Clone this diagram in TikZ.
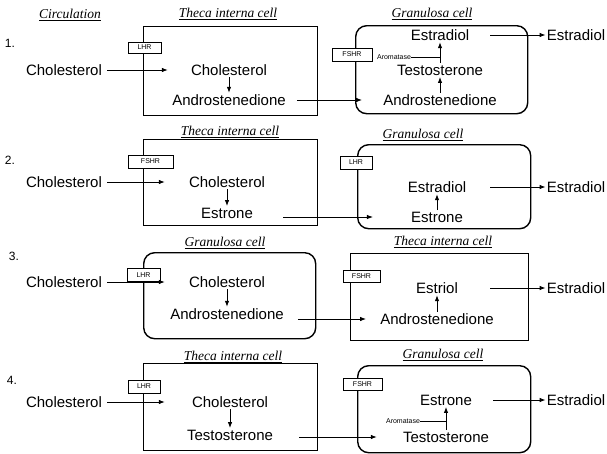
\documentclass[tikz,border=0pt]{standalone}
\usepackage{fontspec}
\setmainfont{Liberation Sans}
\newfontfamily\lblfont{Liberation Serif}
\usetikzlibrary{arrows.meta}
\begin{document}
\begin{tikzpicture}[x=1pt,y=-1pt,
  txt/.style={font=\fontsize{15}{17}\selectfont, inner sep=0pt},
  lbl/.style={font=\lblfont\itshape\fontsize{13.5}{15}\selectfont, inner sep=1pt},
  num/.style={font=\fontsize{12}{14}\selectfont, inner sep=0pt},
  cellsq/.style={draw, line width=1.4pt, inner sep=0pt, anchor=north west},
  cellrd/.style={cellsq, rounded corners=11pt},
  rcp/.style={draw, line width=0.7pt, fill=white, inner sep=0pt, font=\fontsize{7}{8}\selectfont},
  aro/.style={font=\fontsize{7}{8}\selectfont, inner sep=0pt},
  arr/.style={-{Latex[length=6pt,width=4.5pt]}, line width=0.9pt},
  vup/.style={arr, shorten <=1.5pt, shorten >=1.5pt}]
\useasboundingbox (0,0) rectangle (607,453);
\fill[white] (0,0) rectangle (607,453);

% ---------- Row 1 ----------
\node[lbl] (circ) at (70,15) {\underline{Circulation}};
\node[num] (n1) at (10,43) {1.};
\node[txt] (c1) at (64,70) {Cholesterol};
\node[lbl] (l1a) at (228,14) {\underline{Theca interna cell}};
\node[cellsq, minimum width=174pt, minimum height=89pt] (t1) at (143,26) {};
\node[rcp, minimum width=33pt, minimum height=11pt] (r1a) at (144.5,47.5) {LHR};
\node[txt] (ch1) at (229,70) {Cholesterol};
\node[txt] (ad1) at (229,100) {Androstenedione};
\draw[arr, shorten <=5pt, shorten >=23pt] (c1) -- (ch1);
\draw[vup] (ch1) -- (ad1);

\node[lbl] (l1b) at (432,14) {\underline{Granulosa cell}};
\node[cellrd, minimum width=172pt, minimum height=88pt] (g1) at (355,25) {};
\node[rcp, minimum width=40pt, minimum height=13pt] (r1b) at (352,54.5) {FSHR};
\node[txt] (e1) at (440,35) {Estradiol};
\node[txt] (ts1) at (440,70) {Testosterone};
\node[txt] (an1) at (440,100) {Androstenedione};
\draw[vup] (an1) -- (ts1);
\draw[vup] (ts1) -- (e1);
\node[aro] (aro1) at (394,57) {Aromatase};
\draw[line width=0.9pt] (aro1.east) -- (aro1.east -| e1);
\draw[arr, shorten <=11pt, shorten >=21pt] (ad1) -- (an1);
\node[txt] (o1) at (576,35) {Estradiol};
\draw[arr, shorten <=21pt, shorten >=1pt] (e1) -- (o1);

% ---------- Row 2 ----------
\node[num] (n2) at (10,160) {2.};
\node[txt] (c2) at (64,182) {Cholesterol};
\node[lbl] (l2a) at (230,132) {\underline{Theca interna cell}};
\node[cellsq, minimum width=174pt, minimum height=86pt] (t2) at (143,139) {};
\node[rcp, minimum width=45pt, minimum height=13pt] (r2a) at (150.5,161.5) {FSHR};
\node[txt] (ch2) at (227,182) {Cholesterol};
\node[txt] (es2) at (227,213) {Estrone};
\draw[arr, shorten <=5pt, shorten >=24pt] (c2) -- (ch2);
\draw[vup] (ch2) -- (es2);

\node[lbl] (l2b) at (423,135) {\underline{Granulosa cell}};
\node[cellrd, minimum width=173pt, minimum height=84pt] (g2) at (357,144) {};
\node[rcp, minimum width=32pt, minimum height=13pt] (r2b) at (356,162.5) {LHR};
\node[txt] (ed2) at (437,187) {Estradiol};
\node[txt] (en2) at (437,217) {Estrone};
\draw[vup] (en2) -- (ed2);
\draw[arr, shorten <=30pt, shorten >=38pt] (es2.east |- en2) -- (en2.west);
\node[txt] (o2) at (576,187) {Estradiol};
\draw[arr, shorten <=24pt, shorten >=1pt] (ed2) -- (o2);

% ---------- Row 3 ----------
\node[num] (n3) at (14,256) {3.};
\node[txt] (c3) at (64,282) {Cholesterol};
\node[lbl] (l3a) at (225,243) {\underline{Granulosa cell}};
\node[cellrd, minimum width=172pt, minimum height=86pt] (g3) at (143,252) {};
\node[rcp, minimum width=33pt, minimum height=13pt] (r3a) at (143.5,275) {LHR};
\node[txt] (ch3) at (227,282) {Cholesterol};
\node[txt] (ad3) at (227,314) {Androstenedione};
\draw[arr, shorten <=5pt, shorten >=24pt] (c3) -- (ch3);
\draw[vup] (ch3) -- (ad3);

\node[lbl] (l3b) at (443,242) {\underline{Theca interna cell}};
\node[cellsq, minimum width=178pt, minimum height=87pt] (t3) at (350,253) {};
\node[rcp, minimum width=37pt, minimum height=12pt] (r3b) at (361.5,276) {FSHR};
\node[txt] (et3) at (437,288) {Estriol};
\node[txt] (an3) at (437,319) {Androstenedione};
\draw[vup] (an3) -- (et3);
\draw[arr, shorten <=14pt, shorten >=14pt] (ad3.east |- an3) -- (an3.west);
\node[txt] (o3) at (576,288) {Estradiol};
\draw[arr, shorten <=32pt, shorten >=1pt] (et3) -- (o3);

% ---------- Row 4 ----------
\node[num] (n4) at (12,380) {4.};
\node[txt] (c4) at (64,402) {Cholesterol};
\node[lbl] (l4a) at (233,357) {\underline{Theca interna cell}};
\node[cellsq, minimum width=174pt, minimum height=87pt] (t4) at (143,363) {};
\node[rcp, minimum width=32pt, minimum height=13pt] (r4a) at (144,386.5) {LHR};
\node[txt] (ch4) at (230,402) {Cholesterol};
\node[txt] (tt4) at (230,435) {Testosterone};
\draw[arr, shorten <=5pt, shorten >=27pt] (c4) -- (ch4);
\draw[vup] (ch4) -- (tt4);

\node[lbl] (l4b) at (443,355) {\underline{Granulosa cell}};
\node[cellrd, minimum width=173pt, minimum height=87pt] (g4) at (357,365) {};
\node[rcp, minimum width=39pt, minimum height=12pt] (r4b) at (362.5,384) {FSHR};
\node[txt] (eo4) at (446,400) {Estrone};
\node[txt] (ts4) at (446,437) {Testosterone};
\draw[vup] (ts4) -- (eo4);
\node[aro] (aro4) at (403,421) {Aromatase};
\draw[line width=0.9pt] (aro4.east) -- (aro4.east -| eo4);
\draw[arr, shorten <=26pt, shorten >=26pt] (tt4.east |- ts4) -- (ts4.west);
\node[txt] (o4) at (576,400) {Estradiol};
\draw[arr, shorten <=21pt, shorten >=1pt] (eo4) -- (o4);
\end{tikzpicture}
\end{document}
